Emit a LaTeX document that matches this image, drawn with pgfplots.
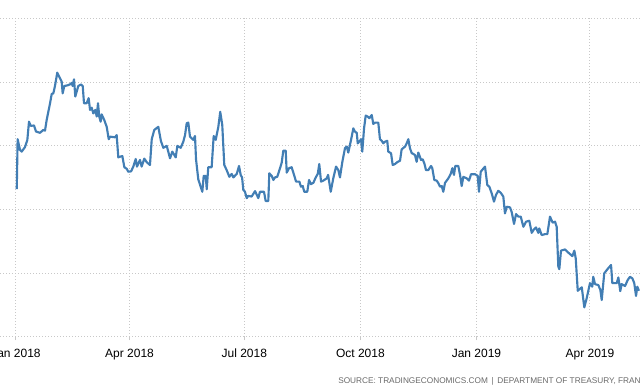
\documentclass[border=0pt]{standalone}
\usepackage{pgfplots}
\pgfplotsset{compat=1.18}
\usepackage{pgfplotstable}
\usepackage{fontspec}
\setmainfont{Liberation Sans}
\definecolor{linec}{RGB}{66,126,180}
\definecolor{gridc}{RGB}{200,200,200}
\definecolor{srcc}{RGB}{105,105,105}
\pgfplotstableread{
d v
0.6 0.664
1.3 0.821
3.2 0.787
4.5 0.782
7.1 0.796
9.0 0.819
10.3 0.876
11.7 0.863
14.3 0.864
15.9 0.845
19.0 0.841
21.6 0.850
23.0 0.848
24.3 0.881
27.0 0.934
28.3 0.963
29.6 0.965
30.9 0.988
32.7 1.030
34.9 1.012
36.2 1.002
37.0 0.965
38.3 0.988
40.7 0.990
42.8 0.993
44.2 0.998
44.9 0.988
46.0 1.009
47.0 0.955
49.4 0.988
51.5 0.993
52.9 0.988
53.9 0.934
56.0 0.934
57.6 0.950
58.7 0.913
60.0 0.920
61.3 0.902
62.9 0.913
64.0 0.892
65.0 0.934
66.0 0.892
67.1 0.876
67.9 0.899
70.0 0.881
71.9 0.860
73.5 0.821
74.5 0.829
78.5 0.827
79.8 0.834
81.1 0.764
82.4 0.766
84.3 0.768
85.9 0.733
87.8 0.728
89.0 0.719
91.2 0.720
93.0 0.735
94.9 0.759
95.9 0.735
98.3 0.756
99.6 0.735
101.7 0.760
103.6 0.749
106.2 0.740
107.6 0.821
109.6 0.850
112.8 0.860
114.9 0.815
116.8 0.794
119.5 0.800
122.1 0.761
123.9 0.782
126.6 0.764
127.9 0.800
130.6 0.794
132.6 0.813
134.0 0.834
135.3 0.871
136.6 0.873
137.9 0.829
140.5 0.819
141.9 0.831
142.7 0.758
144.5 0.695
147.7 0.656
148.8 0.706
150.4 0.706
151.2 0.664
152.4 0.733
155.1 0.733
156.7 0.831
158.3 0.819
160.4 0.860
161.9 0.907
163.5 0.866
165.1 0.740
167.0 0.724
169.1 0.703
171.0 0.712
172.3 0.701
175.0 0.712
176.8 0.737
178.1 0.709
179.2 0.701
180.2 0.662
181.5 0.656
182.9 0.636
184.1 0.643
186.8 0.641
189.5 0.658
192.1 0.636
193.4 0.656
196.6 0.656
197.9 0.627
200.0 0.627
200.8 0.714
202.7 0.706
204.0 0.693
205.3 0.701
207.1 0.703
209.3 0.730
210.6 0.747
211.9 0.785
213.8 0.785
214.6 0.716
216.4 0.730
218.5 0.733
220.4 0.709
222.0 0.688
224.6 0.688
225.9 0.672
227.3 0.674
228.5 0.656
230.9 0.656
232.3 0.693
233.8 0.680
235.7 0.684
237.6 0.701
239.2 0.712
240.4 0.743
241.8 0.688
243.6 0.691
246.3 0.698
247.4 0.709
249.5 0.656
251.5 0.698
253.7 0.735
255.5 0.724
256.8 0.701
258.7 0.750
260.8 0.793
262.2 0.798
263.4 0.779
265.6 0.819
267.4 0.855
268.7 0.845
270.1 0.841
270.9 0.808
272.7 0.816
273.5 0.821
274.5 0.782
275.9 0.855
277.2 0.895
278.8 0.892
280.1 0.887
282.0 0.897
283.2 0.869
284.6 0.873
287.2 0.873
288.5 0.821
289.9 0.816
291.2 0.808
292.5 0.813
294.3 0.816
295.1 0.782
297.3 0.777
298.6 0.740
300.4 0.743
302.6 0.750
304.4 0.753
305.7 0.789
308.4 0.798
309.7 0.808
311.0 0.821
312.3 0.793
313.7 0.777
314.9 0.775
316.3 0.771
317.6 0.750
318.9 0.779
320.2 0.766
321.0 0.756
322.4 0.758
323.7 0.745
325.0 0.724
326.8 0.724
329.0 0.737
330.0 0.730
331.6 0.693
333.5 0.691
334.8 0.683
336.1 0.672
337.5 0.674
338.7 0.656
340.1 0.684
342.7 0.698
344.6 0.712
345.9 0.730
347.2 0.709
348.2 0.737
350.6 0.737
352.0 0.709
353.3 0.674
354.6 0.703
357.3 0.698
359.1 0.691
360.7 0.711
363.9 0.711
366.0 0.706
367.0 0.656
368.4 0.719
371.8 0.735
373.6 0.677
375.2 0.672
377.1 0.651
378.9 0.625
380.5 0.646
382.3 0.659
384.2 0.653
386.3 0.641
387.6 0.588
389.0 0.609
391.6 0.607
392.9 0.593
394.8 0.555
396.4 0.586
398.2 0.578
400.1 0.578
402.2 0.546
404.3 0.562
406.9 0.565
408.8 0.527
410.6 0.538
412.2 0.544
414.0 0.527
414.8 0.541
416.7 0.520
419.3 0.523
421.2 0.523
423.3 0.578
425.4 0.559
427.3 0.562
428.6 0.546
429.9 0.421
430.7 0.413
432.0 0.471
435.2 0.475
437.8 0.465
441.0 0.454
442.6 0.471
443.7 0.447
445.3 0.345
448.5 0.356
450.5 0.293
452.4 0.322
455.0 0.369
456.8 0.358
457.6 0.389
459.0 0.366
461.6 0.363
463.2 0.348
464.3 0.316
466.3 0.400
469.5 0.416
471.7 0.426
472.7 0.369
476.2 0.369
477.5 0.387
479.0 0.344
480.1 0.366
482.8 0.360
484.9 0.379
486.7 0.389
488.6 0.384
490.1 0.369
491.5 0.329
492.5 0.358
493.8 0.345
}\yieldtable
\begin{document}
\begin{tikzpicture}
\begin{axis}[
  name=ax,
  scale only axis,
  width=480pt, height=238.875pt,
  xmin=-12.68, xmax=494.65,
  ymin=0.2, ymax=1.2,
  axis line style={draw=none},
  xtick={0,90,181,273,365,455},
  xticklabels={Jan 2018,Apr 2018,Jul 2018,Oct 2018,Jan 2019,Apr 2019},
  ytick={0.2,0.4,0.6,0.8,1.0,1.2},
  yticklabels={},
  ytick style={draw=none},
  tick pos=bottom,
  tick align=outside,
  major tick length=2.5pt,
  xtick style={draw=gridc, line width=0.75pt},
  grid=major,
  major grid style={draw=gridc, line width=0.75pt, dash pattern=on 0.75pt off 1.5pt},
  xticklabel style={font=\fontsize{9}{10}\selectfont, text=black, anchor=base, inner sep=0pt, yshift=-12.75pt},
  clip=true,
]
\addplot[color=linec, line width=1.6pt, line join=round, no marks] table[x=d, y=v] {\yieldtable};
\end{axis}
\node[anchor=base west, inner sep=0pt, text=srcc, font=\fontsize{6.2}{7}\selectfont]
  at ([xshift=253.5pt, yshift=-35.25pt]ax.south west)
  {SOURCE: TRADINGECONOMICS.COM \,|\, DEPARTMENT OF TREASURY, FRANCE};
\pgfresetboundingbox
\useasboundingbox ([yshift=-41.25pt]ax.south west) rectangle ([yshift=13.875pt]ax.north east);
\end{tikzpicture}
\end{document}
